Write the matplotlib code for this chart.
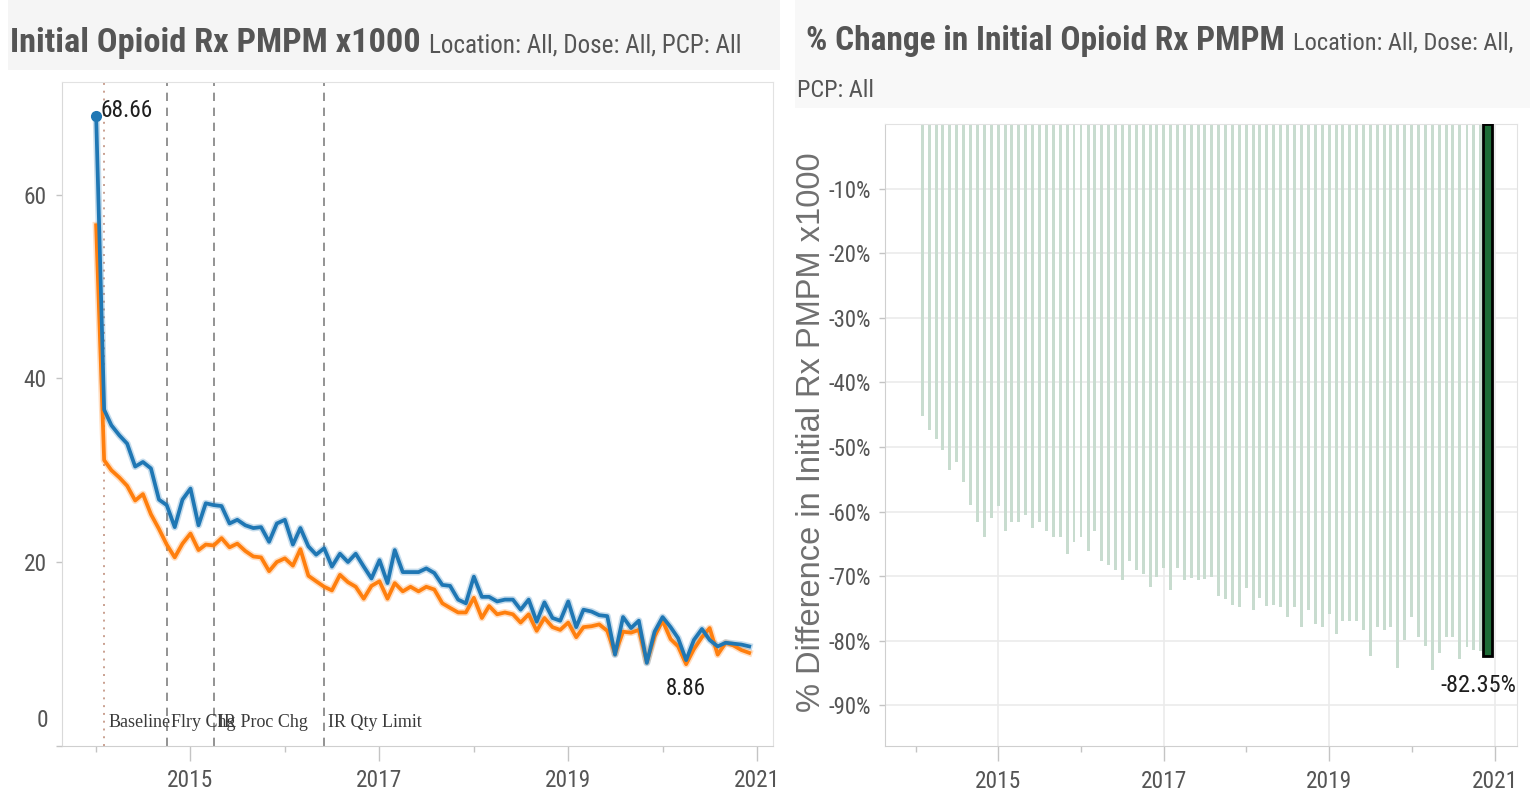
import os
import matplotlib
matplotlib.use("Agg")
import matplotlib.pyplot as plt
import matplotlib.dates as mdates
import matplotlib.ticker as mticker
import matplotlib.transforms as mtrans
from matplotlib.patches import Rectangle
from matplotlib import font_manager as fm
import pandas as pd

# ---------------- data ----------------
START = "2014-01-01"
N_MONTHS = 84  # Jan 2014 .. Dec 2020

rx_blue = [68.66, 36.6, 34.9, 33.8, 32.9, 30.4, 30.9, 30.2, 26.8, 26.2,
           23.8, 26.8, 28.0, 24.0, 26.4, 26.2, 26.1, 24.2, 24.6, 24.0,
           23.7, 23.8, 22.2, 24.2, 24.6, 21.9, 23.7, 21.7, 20.8, 21.5,
           19.5, 20.9, 20.0, 20.9, 19.5, 18.2, 20.2, 17.7, 21.3, 18.9,
           18.9, 18.9, 19.3, 18.8, 17.5, 17.4, 15.9, 15.5, 18.4, 16.2,
           16.2, 15.7, 15.9, 15.9, 14.8, 15.9, 13.5, 15.6, 13.9, 13.6,
           15.7, 12.9, 14.8, 14.6, 14.2, 14.1, 9.9, 14.0, 12.8, 13.6,
           9.0, 12.4, 14.0, 12.9, 11.7, 9.3, 11.5, 12.7, 11.5, 10.8,
           11.2, 11.1, 11.0, 10.8]

rx_orange = [56.7, 31.1, 30.0, 29.2, 28.3, 26.7, 27.4, 25.2, 23.6, 21.9,
             20.5, 22.0, 23.1, 21.3, 21.9, 21.8, 22.6, 21.6, 22.0, 21.2,
             20.6, 20.5, 19.0, 20.0, 20.4, 19.6, 21.4, 18.5, 17.9, 17.3,
             16.9, 18.6, 17.8, 17.3, 16.0, 17.4, 17.9, 16.0, 17.7, 16.8,
             17.3, 16.8, 17.3, 17.0, 15.5, 15.0, 14.5, 14.5, 16.1, 13.9,
             15.2, 14.3, 14.5, 14.3, 13.4, 14.3, 12.5, 13.9, 12.9, 12.6,
             13.4, 11.8, 12.9, 13.0, 13.2, 12.5, 10.0, 12.4, 12.3, 12.6,
             9.1, 11.9, 13.6, 11.6, 10.8, 8.86, 10.5, 11.8, 12.8, 9.9,
             11.2, 10.9, 10.4, 10.1]

# % change vs Jan 2014, Feb 2014 .. Dec 2020
pct_change = [-45.2, -47.3, -48.8, -50.4, -53.5, -52.4, -55.4, -59.0, -61.6, -64.0,
              -61.0, -59.1, -63.0, -61.6, -61.6, -60.5, -62.5, -61.6, -63.0, -64.0,
              -64.0, -66.6, -64.7, -64.0, -66.1, -63.0, -67.6, -68.2, -69.1, -70.6,
              -67.6, -69.1, -69.6, -71.7, -70.2, -68.7, -72.2, -68.7, -70.6, -70.3,
              -70.6, -70.4, -70.2, -73.0, -73.5, -74.4, -74.8, -71.9, -75.3, -73.4,
              -74.7, -74.4, -74.8, -76.4, -74.8, -77.8, -75.3, -77.4, -77.8, -75.9,
              -78.9, -76.9, -76.9, -76.9, -78.4, -82.4, -77.8, -78.4, -77.8, -84.3,
              -79.9, -76.4, -79.4, -80.8, -84.6, -81.9, -79.4, -79.4, -82.9, -80.9,
              -81.4, -81.6, -82.35]

event_dates = ["2014-02-01", "2014-10-01", "2015-04-01", "2016-06-01"]
event_labels = ["Baseline", "Flry Chg", "IR Proc Chg", "IR Qty Limit"]

major_years = [2015, 2017, 2019, 2021]
minor_years = [2014, 2016, 2018, 2020]
left_yticks = [0, 20, 40, 60]
right_yticks = [-10, -20, -30, -40, -50, -60, -70, -80, -90]

TITLE_L = "Initial Opioid Rx PMPM x1000"
SUB_L = "Location: All, Dose: All, PCP: All"
TITLE_R = "% Change in Initial Opioid Rx PMPM"
SUB_R1 = "Location: All, Dose: All,"
SUB_R2 = "PCP: All"
YLABEL_R = "% Difference in Initial Rx PMPM x1000"

# ---------------- fonts ----------------
_files = {os.path.basename(f.fname).lower(): f.fname for f in fm.fontManager.ttflist}


def _pick(cands):
    for c in cands:
        if c.lower() in _files:
            return _files[c.lower()]
    return None


REG_PATH = _pick(["LiberationSansNarrow-Regular.ttf", "RobotoCondensed-Regular.ttf",
                  "NotoSans-Condensed.ttf", "NotoSans-CondensedRegular.ttf",
                  "OpenSans-CondRegular.ttf", "OpenSansCondensed-Regular.ttf"])
BOLD_PATH = _pick(["LiberationSansNarrow-Bold.ttf", "RobotoCondensed-Bold.ttf",
                   "NotoSans-CondensedBold.ttf", "OpenSans-CondBold.ttf",
                   "OpenSansCondensed-Bold.ttf"])


def FP(bold=False, size=12.0, family=None):
    if family is not None:
        return fm.FontProperties(family=family, weight="bold" if bold else "normal", size=size)
    path = BOLD_PATH if bold else REG_PATH
    if path:
        return fm.FontProperties(fname=path, size=size)
    return fm.FontProperties(family=["Liberation Sans", "DejaVu Sans"],
                             weight="bold" if bold else "normal", size=size)


SANS = ["Liberation Sans", "DejaVu Sans"]
SERIF = ["Liberation Serif", "DejaVu Serif"]

W, H = 1530, 805
fig = plt.figure(figsize=(W / 100, H / 100), dpi=100)
fig.patch.set_facecolor("white")
renderer = fig.canvas.get_renderer()


def fx(px):
    return px / W


def fy(py):
    return 1 - py / H


def fit(s, target, bold=False, family=None, base=20.0):
    t = fig.text(0, 0, s, fontproperties=FP(bold, base, family))
    w = t.get_window_extent(renderer=renderer).width
    t.remove()
    return base * target / w


dates = pd.date_range(START, periods=N_MONTHS, freq="MS")

# ---------------- title bands ----------------
fig.add_artist(Rectangle((fx(8), fy(70)), fx(780) - fx(8), fy(0) - fy(70),
                         transform=fig.transFigure, facecolor="#f5f5f5", edgecolor="none", zorder=0))
fig.add_artist(Rectangle((fx(795), fy(108)), fx(1530) - fx(795), fy(0) - fy(108),
                         transform=fig.transFigure, facecolor="#f8f8f8", edgecolor="none", zorder=0))

TCOL = "#555555"
fs_t = fit(TITLE_L, 380 * 1.08, bold=True)
fs_s = fit(SUB_L, 290 * 1.08)
t1 = fig.text(fx(10), fy(52), TITLE_L, fontproperties=FP(True, fs_t), color=TCOL, va="baseline")
bb = t1.get_window_extent(renderer=renderer)
fig.text((bb.x1 + 8) / W, fy(52), SUB_L, fontproperties=FP(False, fs_s), color=TCOL, va="baseline")

fs_t2 = fit(TITLE_R, 459 * 1.04, bold=True)
fs_s2 = fit(SUB_R1, 212 * 1.04)
t2 = fig.text(fx(806), fy(50), TITLE_R, fontproperties=FP(True, fs_t2), color=TCOL, va="baseline")
bb2 = t2.get_window_extent(renderer=renderer)
fig.text((bb2.x1 + 8) / W, fy(50), SUB_R1, fontproperties=FP(False, fs_s2), color=TCOL, va="baseline")
fig.text(fx(797), fy(97), SUB_R2, fontproperties=FP(False, fs_s2), color=TCOL, va="baseline")

# ---------------- common sizes ----------------
fs_year = fit("2015", 40 * 1.15)
fs_ly = fit("60", 20 * 1.15)
fs_ry = fit("-10%", 38 * 1.12)
LABCOL = "#555555"
TICKC = "#c4c4c4"


def style_xaxis(ax):
    ax.xaxis.set_major_locator(mticker.FixedLocator(
        [mdates.date2num(pd.Timestamp(f"{y}-01-01")) for y in major_years]))
    ax.xaxis.set_minor_locator(mticker.FixedLocator(
        [mdates.date2num(pd.Timestamp(f"{y}-01-01")) for y in minor_years]))
    ax.xaxis.set_major_formatter(mticker.FixedFormatter([str(y) for y in major_years]))
    ax.tick_params(axis="x", which="major", length=11, width=1, color=TICKC, pad=6, labelcolor=LABCOL)
    ax.tick_params(axis="x", which="minor", length=4, width=1, color=TICKC)
    for lab in ax.get_xticklabels():
        lab.set_fontproperties(FP(False, fs_year))


# ---------------- left chart ----------------
ax1 = fig.add_axes([fx(62), fy(745.5), fx(773) - fx(62), fy(82.5) - fy(745.5)])
ax1.set_xlim(pd.Timestamp("2013-08-22"), pd.Timestamp("2021-03-03"))
ax1.set_ylim(0, 72.26)
for s in ax1.spines.values():
    s.set_color("#e2e2e2")
ax1.spines["bottom"].set_color("#cfcfcf")
ax1.spines["left"].set_color("#d9d9d9")

for vals, col in [(rx_orange, "#ff7f0e"), (rx_blue, "#1f77b4")]:
    ax1.plot(dates, vals, color=col, lw=5.0, alpha=0.25, solid_joinstyle="round", zorder=3)
    ax1.plot(dates, vals, color=col, lw=2.7, solid_joinstyle="round", zorder=4)
ax1.plot(dates[0], rx_blue[0], "o", color="#1f77b4", ms=7, zorder=5)

fs_ann = fit(event_labels[0], 62, family=SERIF)
for i, (d, lab) in enumerate(zip(event_dates, event_labels)):
    if i == 0:
        ax1.axvline(pd.Timestamp(d), color="#c9a090", ls=(0, (1, 3)), lw=1.4, zorder=2)
    else:
        ax1.axvline(pd.Timestamp(d), color="#808080", ls=(0, (5, 4)), lw=1.2, zorder=2)
    ax1.annotate(lab, xy=(pd.Timestamp(d), 2.0), xytext=(4, 0), textcoords="offset pixels",
                 ha="left", va="baseline", fontproperties=FP(False, fs_ann, SERIF),
                 color="#3a3a3a", zorder=6)

ax1.annotate(f"{rx_blue[0]:.2f}", xy=(dates[0], rx_blue[0]), xytext=(4, 5), textcoords="offset pixels",
             ha="left", va="center", fontproperties=FP(False, fit("68.66", 48 * 1.08)),
             color="#1e1e1e", zorder=6)
imin = rx_orange.index(min(rx_orange))
ax1.annotate(f"{rx_orange[imin]:.2f}", xy=(dates[imin], rx_orange[imin]), xytext=(0, -24),
             textcoords="offset pixels", ha="center", va="center",
             fontproperties=FP(False, fit("8.86", 37 * 1.08)), color="#1e1e1e", zorder=6)

ax1.set_yticks(left_yticks)
ax1.set_yticklabels(["" if v == 0 else str(v) for v in left_yticks])
ax1.tick_params(axis="y", length=4, width=1, color=TICKC, pad=7, labelcolor=LABCOL)
for lab in ax1.get_yticklabels():
    lab.set_fontproperties(FP(False, fs_ly))
ax1.text(48, 2.7, "0", transform=mtrans.blended_transform_factory(mtrans.IdentityTransform(), ax1.transData),
         ha="right", va="center", fontproperties=FP(False, fs_ly), color=LABCOL)
style_xaxis(ax1)

# ---------------- right chart ----------------
ax2 = fig.add_axes([fx(885), fy(746), fx(1517) - fx(885), fy(124) - fy(746)])
ax2.set_xlim(pd.Timestamp("2013-08-18"), pd.Timestamp("2021-04-10"))
ax2.set_ylim(-96.3, 0)
for s in ax2.spines.values():
    s.set_color("#e2e2e2")
ax2.spines["left"].set_color("#cfcfcf")
ax2.spines["bottom"].set_color("#cfcfcf")
ax2.set_axisbelow(True)
ax2.grid(axis="y", color="#ebebeb", lw=1.2)
ax2.grid(axis="x", which="major", color="#ebebeb", lw=1.2)

bar_dates = dates[1:]
ax2.bar(bar_dates[:-1], pct_change[:-1], width=13, color="#c8dccf", zorder=2)
ax2.bar(bar_dates[-1:], pct_change[-1:], width=40, color="#1d6b36", edgecolor="#000000",
        linewidth=2.0, zorder=3)
ax2.annotate(f"{pct_change[-1]:.2f}%", xy=(bar_dates[-1], pct_change[-1]), xytext=(-9, -30),
             textcoords="offset pixels", ha="center", va="center",
             fontproperties=FP(False, fit("-82.35%", 72 * 1.06)), color="#1e1e1e", zorder=6)

ax2.set_yticks(right_yticks)
ax2.set_yticklabels([f"{v}%" for v in right_yticks])
ax2.tick_params(axis="y", length=4, width=1, color=TICKC, pad=6, labelcolor=LABCOL)
for lab in ax2.get_yticklabels():
    lab.set_fontproperties(FP(False, fs_ry))
style_xaxis(ax2)

fig.text(fx(812), fy(432), YLABEL_R, rotation=90, ha="center", va="center",
         fontproperties=FP(False, fit(YLABEL_R, 560, family=SANS), SANS), color="#707070")

fig.savefig("out.png", dpi=100, facecolor="white")
